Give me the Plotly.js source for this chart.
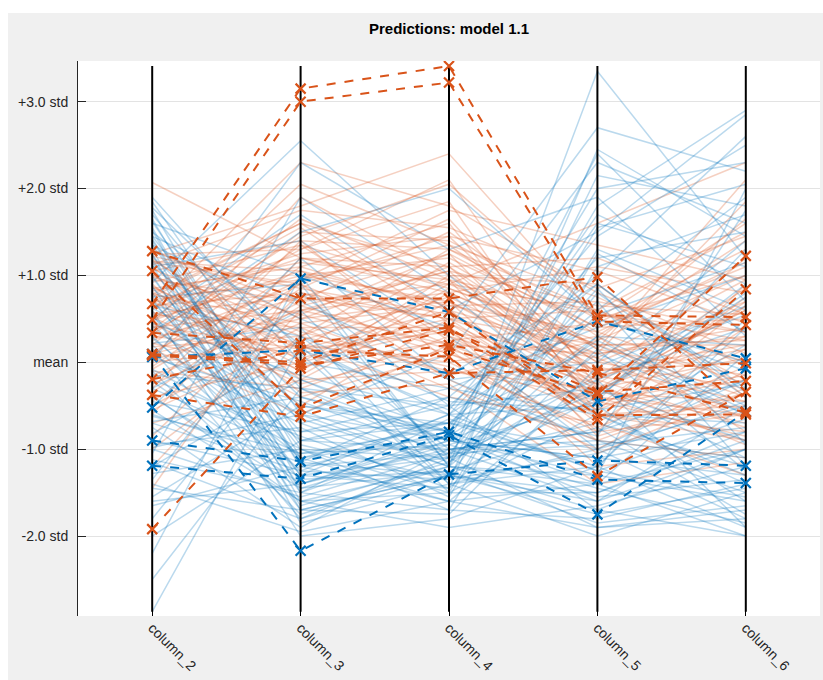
<!DOCTYPE html>
<html>
<head>
<meta charset="utf-8">
<script src="https://cdn.plot.ly/plotly-3.0.1.min.js"></script>
<style>
  html, body { margin: 0; padding: 0; background: #ffffff; }
  #chart { position: absolute; left: 8px; top: 13px; width: 815px; height: 667px; }
</style>
</head>
<body>
<div id="chart"></div>
<script>
// Parallel coordinates of standardized predictors (values in std units)
const columns = ["column_2", "column_3", "column_4", "column_5", "column_6"];
const yTickVals = [-2, -1, 0, 1, 2, 3];
const yTickText = ["-2.0 std", "-1.0 std", "mean", "+1.0 std", "+2.0 std", "+3.0 std"];

// Background observations, class 1 (blue)
const blueC2 = [1.85,1.75,1.70,1.62,1.55,1.50,1.45,1.40,1.35,1.30,1.22,1.18,1.10,1.05,0.98,0.92,0.85,0.80,0.75,0.70,0.62,0.55,0.50,0.42,0.38,0.30,0.22,0.15,0.08,0.00,-0.08,-0.15,-0.22,-0.30,-0.38,-0.45,-0.52,-0.60,-0.68,-0.75,-0.82,-0.90,-0.98,-1.05,-1.12,-1.20,-1.28,-1.35,-1.45,-1.55,-1.65,-1.80,-2.00,-2.20,-2.50,-2.87,1.90,1.60,1.25,0.60,0.35,-0.10,-0.55,1.00,-0.30,0.20,1.45,-1.00,0.45,-0.70,1.15,-1.40,0.65,-0.20,1.78,1.65,1.35,0.88,0.28,-0.40,-0.95,1.52,0.72,-1.15,0.05,1.12,-0.62,0.52,-1.60,1.42];
const blueC3 = [-0.60,-1.10,-0.30,-0.90,-1.40,0.20,-0.70,-1.20,0.50,-1.60,-0.40,-1.00,1.40,-0.80,-1.30,2.55,-0.50,-1.50,0.90,-1.10,-0.20,-1.70,1.70,-0.90,-0.60,-1.25,0.40,-1.80,-0.70,2.30,-1.00,-0.30,-1.40,0.60,-1.60,-0.80,1.20,-1.15,-0.40,-1.90,0.10,-1.30,-0.60,1.90,-1.50,-0.20,-1.00,0.80,-1.70,-0.50,-1.20,0.30,-0.90,1.00,-0.30,0.20,0.00,1.00,-1.85,-2.00,1.50,-1.75,-1.60,-1.45,-1.05,-1.35,0.70,-1.55,-0.15,-1.25,-0.55,-1.95,0.30,-0.85,0.15,-1.20,-0.95,-1.65,-1.10,-1.45,-0.75,-1.50,-1.30,-1.80,-0.45,-1.70,-1.05,-0.65,-1.40,-1.15];
const blueC4 = [-0.90,-0.70,-1.10,-0.50,-1.00,-0.60,-1.30,-0.80,-0.20,-1.20,-0.90,-1.50,0.30,-0.40,-1.10,1.00,-0.70,-0.90,-1.20,-1.60,-0.80,-1.30,0.60,-1.00,0.10,-0.60,-1.40,-1.10,-0.30,1.30,-1.70,-0.50,-0.90,-1.10,-1.50,-0.70,-0.20,-1.30,-0.80,-1.00,-1.40,-0.60,-1.20,0.80,-1.70,-0.90,-1.10,-0.50,-1.30,-0.80,-1.60,-1.00,-0.70,-1.20,-0.90,-1.50,-0.30,0.40,-1.40,-1.80,2.00,-1.20,-1.90,-0.95,-0.75,-1.25,-0.15,-1.05,-0.60,-1.35,-1.15,-1.60,-0.45,-1.45,-0.55,-1.05,-1.35,-1.15,-0.85,-1.25,-1.55,-0.65,-1.45,-1.30,-1.05,-1.75,-0.95,-1.20,-0.85,-0.40];
const blueC5 = [0.30,-1.20,1.80,-0.30,-0.80,1.20,-1.50,0.60,-0.90,-1.70,2.40,-0.60,-1.00,1.00,-1.90,-0.40,0.20,-1.10,3.35,-0.20,-1.40,0.80,1.50,-1.60,2.30,-0.50,-1.20,-0.70,0.40,1.90,-1.80,0.90,-1.30,-0.30,1.30,-1.00,0.00,-1.60,2.00,-0.90,-2.00,0.50,-1.40,-0.60,1.10,-1.10,0.10,-1.70,-0.40,1.60,-1.90,-0.80,0.70,-1.30,-0.20,-1.50,-0.60,2.70,-1.00,-1.20,0.50,0.30,-1.65,-0.45,1.70,-1.85,0.90,-0.95,-1.25,2.15,-0.15,-1.40,-0.55,0.15,1.45,-0.35,-1.05,0.55,-1.55,-0.75,1.25,-1.25,2.45,-1.75,0.85,-0.05,-1.45,1.55,0.25,-0.85];
const blueC6 = [-0.50,0.40,2.90,-1.10,0.20,1.50,-0.90,1.90,-1.50,-2.00,0.70,-1.30,-0.20,2.60,-1.70,0.90,-0.60,-0.80,1.20,-1.90,0.10,-0.40,2.85,-1.00,1.60,-1.60,0.50,-1.20,1.00,0.30,-1.40,-0.30,2.00,-0.90,0.60,-1.80,1.40,-0.50,2.30,-1.10,-1.50,0.00,-2.00,-0.70,1.70,-1.30,-0.60,-1.00,0.80,1.10,-1.80,-0.20,-1.20,-1.60,0.40,-0.80,-1.40,2.20,-0.50,-1.90,-0.10,0.20,-1.20,1.30,0.90,-1.65,-0.35,-0.75,-1.55,1.80,0.55,-1.00,-0.25,-1.25,2.50,0.75,-0.45,1.15,-1.35,-1.75,0.35,-0.65,1.45,-1.45,-0.95,0.65,-1.85,2.05,-0.55,1.75];

// Background observations, class 2 (orange)
const orangeC2 = [2.07,1.30,1.25,1.20,1.15,1.10,1.05,1.00,0.95,0.90,0.85,0.80,0.75,0.70,0.65,0.60,0.55,0.50,0.45,0.40,0.35,0.30,0.25,0.20,0.15,0.10,0.05,0.00,-0.05,-0.10,-0.20,-0.30,-0.40,-0.50,-0.60,-0.70,-0.85,-1.00,-1.20,-1.45,1.28,0.92,0.58,0.12,1.02,0.38,0.78,-0.15,1.18,0.48,0.22,0.68,-0.35,1.08,0.28,0.88,-0.55,0.62,0.02,1.22,0.52,0.82,-0.25,0.42,0.72,1.12,0.32,0.98,0.62,-0.08,0.78,0.18,1.16,0.46,-0.45,0.86,1.24,0.56,0.08,0.74];
const orangeC3 = [1.20,0.50,1.80,0.00,0.90,-0.20,1.40,0.30,0.70,-0.50,1.10,0.20,1.60,-0.10,0.80,2.30,0.40,1.00,-0.40,0.60,1.30,0.10,0.90,1.50,-0.60,0.50,1.90,0.20,1.10,-0.30,0.70,1.40,0.00,0.40,1.20,-0.20,0.80,0.30,0.60,1.00,0.65,1.35,0.05,0.95,-0.35,1.65,0.45,0.55,0.15,1.05,-0.15,1.25,0.85,0.35,0.75,-0.05,0.25,1.55,0.60,0.85,-0.25,1.15,0.45,0.15,0.95,1.75,1.45,0.55,1.20,0.90,1.60,0.30,1.05,2.05,0.65,0.15,1.30,0.75,1.35,-0.10];
const orangeC4 = [0.90,1.10,2.40,0.40,0.20,0.70,1.30,-0.10,0.90,0.50,1.60,0.00,0.60,1.00,0.30,1.80,-0.30,1.20,0.10,0.80,2.10,0.50,-0.20,1.40,0.20,0.70,1.00,-0.40,0.60,0.30,1.50,0.00,0.90,0.40,1.10,-0.10,0.50,1.30,0.20,0.70,0.15,0.85,0.45,1.75,-0.25,0.95,0.65,0.10,1.15,0.35,0.80,1.45,0.55,-0.05,1.25,0.25,0.75,0.45,1.05,1.65,0.15,0.95,-0.15,0.60,1.35,1.55,2.05,1.25,0.80,1.45,1.10,0.95,0.65,1.35,1.05,0.35,1.85,0.50,0.25,0.85];
const orangeC5 = [0.20,-0.30,0.50,-0.60,0.10,-0.80,0.60,-0.40,1.60,-0.10,-0.50,0.30,-0.70,0.00,-0.20,0.80,-0.90,0.40,-0.60,1.10,-0.30,0.20,-1.00,0.50,-0.40,-0.20,0.90,-0.70,0.10,-0.50,0.30,-0.80,0.60,-1.20,0.00,-0.30,-0.60,0.40,-0.90,-0.10,-0.35,0.25,-0.55,1.35,-1.40,-0.15,0.70,-0.45,0.15,-0.65,0.05,1.05,-0.25,-0.75,0.35,0.45,-0.05,-0.30,0.65,-0.20,-1.05,0.55,0.25,-0.55,0.15,0.85,0.55,-0.45,0.10,-0.15,1.20,-0.85,0.35,0.75,-0.35,0.05,-0.60,0.60,-0.25,0.20];
const orangeC6 = [-0.40,0.60,1.60,-0.90,0.30,0.90,-0.20,-0.60,2.30,0.00,0.70,-0.80,0.40,-0.30,1.20,0.10,-1.10,0.50,-0.50,0.80,-0.70,0.20,-0.10,1.00,-0.90,0.60,-0.40,-1.30,0.40,-0.20,1.40,-0.60,0.00,-1.00,0.70,0.30,-0.80,1.10,-0.30,0.20,-0.45,1.65,0.15,0.95,-1.15,-0.55,0.35,-0.15,2.10,0.65,-0.65,0.45,0.85,-0.05,-0.25,1.30,-0.45,0.05,0.55,-0.75,-0.35,0.25,1.00,0.75,-0.15,1.45,0.35,-0.85,1.85,0.15,0.55,-0.35,1.15,-0.05,0.65,0.95,-0.60,1.50,-0.95,0.25];

// Highlighted observations, class 1 (blue, dashed with markers)
const blueHiC2 = [0.095,-0.52,-0.90,-1.19,0.06];
const blueHiC3 = [-2.17,0.965,-1.14,-1.34,0.14];
const blueHiC4 = [-1.29,0.58,-0.80,-0.84,-0.125];
const blueHiC5 = [-1.13,-0.45,-1.35,-1.75,0.47];
const blueHiC6 = [-1.19,-0.07,-1.39,-0.57,0.045];

// Highlighted observations, class 2 (orange, dashed with markers)
const orangeHiC2 = [0.67,0.49,1.28,1.05,0.095,-1.92,0.34,-0.195,-0.375,0.08];
const orangeHiC3 = [3.15,3.00,0.735,-0.53,0.00,-0.07,0.22,0.14,-0.625,-0.03];
const orangeHiC4 = [3.41,3.22,0.735,0.16,0.58,0.37,0.40,0.065,-0.125,0.20];
const orangeHiC5 = [0.54,0.47,0.98,-0.37,-0.61,-0.34,-0.66,-1.31,-0.09,-0.12];
const orangeHiC6 = [0.52,0.43,-0.57,1.225,-0.60,-0.215,0.84,-0.34,-0.01,-0.58];

const BLUE = "#0072BD";
const ORANGE = "#D95319";
const xIdx = columns.map((_, i) => i);

function rows(c2, c3, c4, c5, c6) {
  return c2.map((v, i) => [v, c3[i], c4[i], c5[i], c6[i]]);
}

const blueRows = rows(blueC2, blueC3, blueC4, blueC5, blueC6);
const orangeRows = rows(orangeC2, orangeC3, orangeC4, orangeC5, orangeC6);
const blueHiRows = rows(blueHiC2, blueHiC3, blueHiC4, blueHiC5, blueHiC6);
const orangeHiRows = rows(orangeHiC2, orangeHiC3, orangeHiC4, orangeHiC5, orangeHiC6);

const traces = [];
function faint(row, color) {
  traces.push({
    type: "scatter", mode: "lines", x: xIdx, y: row,
    line: { color: color, width: 1.5 }, hoverinfo: "skip"
  });
}
// interleave the two classes so neither sits fully on top
const nFaint = Math.max(blueRows.length, orangeRows.length);
for (let i = 0; i < nFaint; i++) {
  if (i < blueRows.length) faint(blueRows[i], "rgba(0,114,189,0.27)");
  if (i < orangeRows.length) faint(orangeRows[i], "rgba(217,83,25,0.27)");
}

// vertical coordinate axes spanning the full data range
const allVals = [].concat(...blueRows, ...orangeRows, ...blueHiRows, ...orangeHiRows);
const vMin = Math.min(...allVals), vMax = Math.max(...allVals);
xIdx.forEach(i => {
  traces.push({
    type: "scatter", mode: "lines", x: [i, i], y: [vMin, vMax],
    line: { color: "#000000", width: 2 }, hoverinfo: "skip"
  });
});

function highlighted(row, color) {
  traces.push({
    type: "scatter", mode: "lines+markers", x: xIdx, y: row,
    line: { color: color, width: 2, dash: "dash" },
    marker: { symbol: "x-thin-open", size: 10, color: color, line: { color: color, width: 2.2 } },
    hoverinfo: "skip"
  });
}
blueHiRows.forEach(r => highlighted(r, BLUE));
orangeHiRows.forEach(r => highlighted(r, ORANGE));

const layout = {
  width: 815, height: 667,
  margin: { l: 70, r: 3, t: 48, b: 64 },
  paper_bgcolor: "#f0f0f0",
  plot_bgcolor: "#ffffff",
  showlegend: false,
  hovermode: false,
  font: { family: "Liberation Sans, Arial, sans-serif", size: 14, color: "#262626" },
  title: {
    text: "<b>Predictions: model 1.1</b>",
    font: { family: "Liberation Sans Narrow, Arial Narrow, Liberation Sans, Arial, sans-serif", size: 15, color: "#000000" },
    x: 0.5, xref: "paper", xanchor: "center",
    y: 1 - 16 / 667, yref: "container", yanchor: "middle"
  },
  xaxis: {
    range: [-0.5, 4.5],
    tickmode: "array", tickvals: xIdx, ticktext: columns,
    tickangle: 45,
    ticks: "inside", ticklen: 5, tickwidth: 1, tickcolor: "#000000",
    showgrid: false, zeroline: false, showline: false,
    tickfont: { size: 14, color: "#262626" },
    fixedrange: true
  },
  yaxis: {
    range: [-2.92, 3.468],
    tickmode: "array", tickvals: yTickVals, ticktext: yTickText,
    ticks: "inside", ticklen: 8, tickwidth: 1, tickcolor: "#262626",
    showgrid: true, gridcolor: "#e3e3e3", gridwidth: 1,
    zeroline: false, showline: true, linecolor: "#262626", linewidth: 1,
    tickfont: { size: 14, color: "#262626" },
    ticklabelstandoff: 6,
    fixedrange: true
  }
};

Plotly.newPlot("chart", traces, layout, { staticPlot: true, displayModeBar: false });
</script>
</body>
</html>
